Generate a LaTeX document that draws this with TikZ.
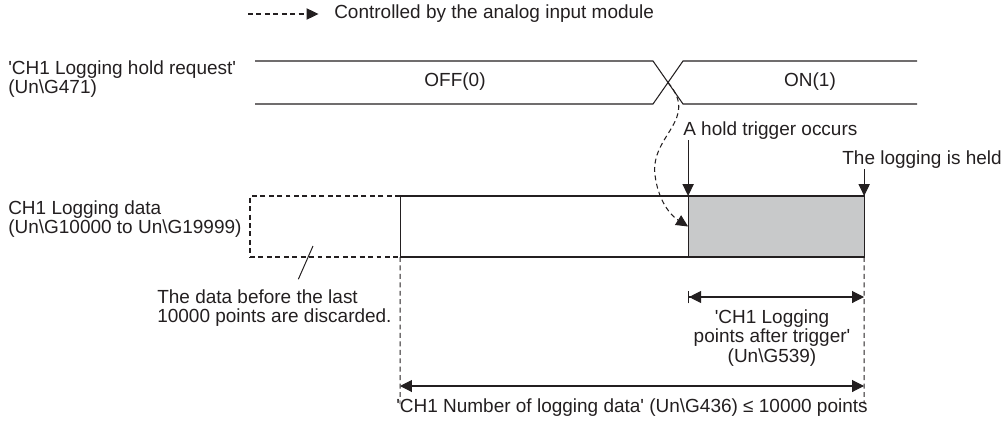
\documentclass[tikz,border=0pt]{standalone}
\usepackage{fontspec}
\setmainfont{Liberation Sans}[Ligatures=TeXOff]
\usetikzlibrary{arrows.meta, positioning}
\definecolor{heldgray}{RGB}{200,201,202}
\definecolor{ink}{RGB}{35,31,32}
\begin{document}
\begin{tikzpicture}[
        x=0.025cm, y=-0.025cm,
        font=\fontsize{13.5}{13.9}\selectfont, text=ink,
        node distance=0pt,
        lbl/.style={inner sep=0pt, align=left},
        sig/.style={draw=ink, line width=0.75pt},
        databox/.style={rectangle, draw=ink, line width=0.75pt, minimum height=1.525cm,
                        inner sep=0pt, outer sep=0pt},
        arr/.style={-{Triangle[length=8.5pt, width=8pt]}, draw=ink, line width=0.75pt},
        ctrl/.style={arr, dash pattern=on 3.5pt off 2.5pt},
        guide/.style={draw=ink, line width=0.7pt, dash pattern=on 3.5pt off 2.5pt},
        dim/.style={{Triangle[length=8.5pt, width=8.5pt]}-{Triangle[length=8.5pt, width=8.5pt]},
                    draw=ink, line width=0.75pt},
    ]
    \useasboundingbox (0,0) rectangle (1004,421);

    \node[lbl, anchor=west] (legend) at (334,14) {Controlled by the analog input module};
    \coordinate (legA) at (248,14);
    \draw[ctrl] (legA) -- ([xshift=-11pt]legend.west);

    \node[lbl, anchor=west] (req) at (8,79) {'CH1 Logging hold request'\\(Un\textbackslash G471)};
    \draw[sig] (255,61) -- (653,61) -- (683,104) -- (917,104);
    \draw[sig] (255,104) -- (653,104) -- (683,61) -- (917,61);
    \coordinate (cross) at (668,82.5);
    \node (off) at (455,82) {OFF(0)};
    \node (on) at (810,82) {ON(1)};

    \node[lbl, anchor=west] (logdata) at (8,219) {CH1 Logging data\\(Un\textbackslash G10000 to Un\textbackslash G19999)};
    \node[databox, dash pattern=on 3.5pt off 2.5pt, minimum width=3.75cm, anchor=north west] (old) at (250,196) {};
    \node[databox, minimum width=7.2cm, right=of old] (buf) {};
    \node[databox, fill=heldgray, minimum width=4.4cm, right=of buf] (held) {};

    \node[lbl, anchor=west] (trig) at (683,131) {A hold trigger occurs};
    \draw[arr] (trig.south -| held.north west) -- (held.north west);
    \node[lbl, anchor=east] (hold) at (1002,160) {The logging is held};
    \draw[arr] (hold.south -| held.north east) -- (held.north east);
    \draw[ctrl] (cross) .. controls (700,120) and (650,135) .. (655,175)
        .. controls (658,200) and (670,215) .. (held.west);

    \node[lbl, anchor=west] (disc) at (157,308) {The data before the last\\10000 points are discarded.};
    \coordinate (discpt) at (313,246);
    \draw[draw=ink, line width=0.7pt] ([xshift=17pt, yshift=7pt]disc.north) -- (discpt);

    \coordinate (endL) at (400,404);
    \coordinate (endR) at (864,404);
    \draw[guide] (buf.south west) -- (endL);
    \draw[guide] (held.south east) -- (endR);

    \coordinate (aftL) at (688,297);
    \coordinate (aftR) at (864,297);
    \draw[dim, {Bar[width=9pt, line width=0.75pt]Triangle[length=8.5pt, width=8.5pt]}-{Triangle[length=8.5pt, width=8.5pt]}] (aftL) -- (aftR);
    \node[align=center, inner sep=0pt] (after) at (772,338) {'CH1 Logging\\points after trigger'\\(Un\textbackslash G539)};

    \coordinate (totL) at (400,386);
    \coordinate (totR) at (864,386);
    \draw[dim] (totL) -- (totR);
    \node[inner sep=0pt] (total) at (632,408) {'CH1 Number of logging data' (Un\textbackslash G436) ≤ 10000 points};
\end{tikzpicture}
\end{document}
